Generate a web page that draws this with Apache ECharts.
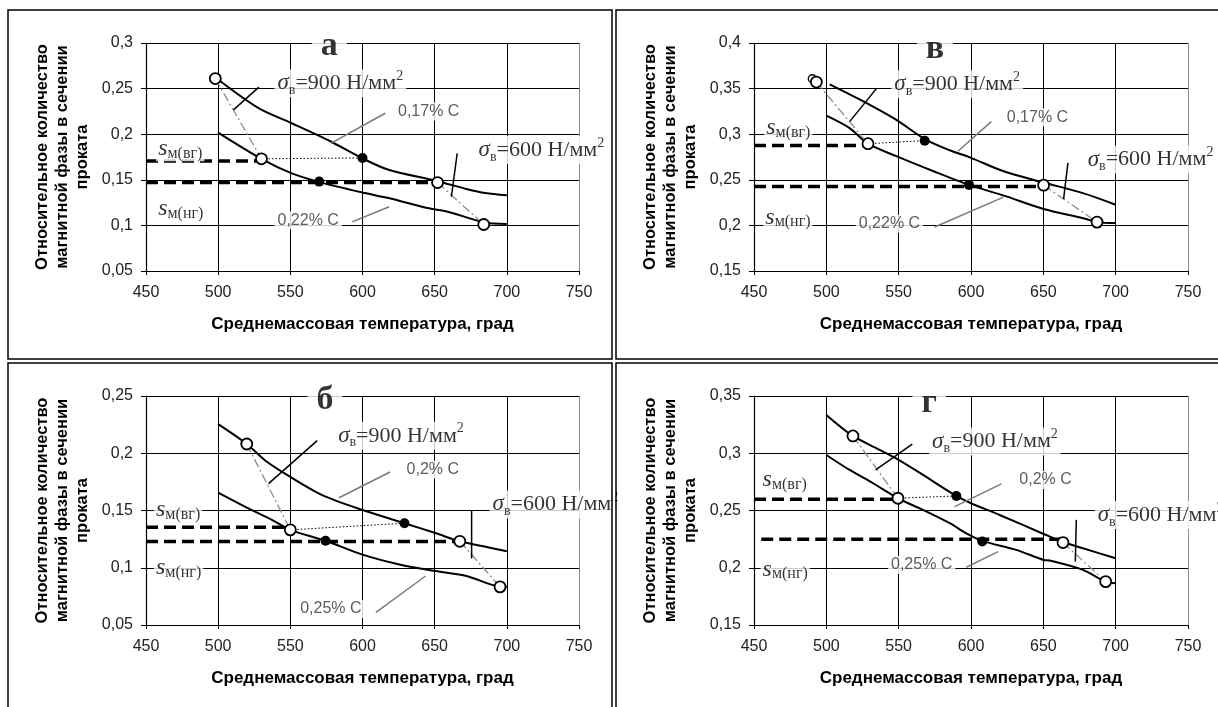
<!DOCTYPE html>
<html><head><meta charset="utf-8">
<script src="https://cdn.jsdelivr.net/npm/echarts@6/dist/echarts.min.js"></script>
<style>html,body{margin:0;padding:0;background:#fff}#c{width:1218px;height:707px}</style>
</head><body><div id="c"></div><script>
// ---------- DATA ----------
const xTicks = [450, 500, 550, 600, 650, 700, 750];
const xTitle = 'Среднемассовая температура, град';
const yTitle = 'Относительное количество\nмагнитной фазы в сечении\nпроката';

// panel а
const aUpper = [[499,0.261],[528,0.2285],[551,0.212],[578,0.192],[600,0.1735],[618,0.161],[652,0.1485],[672,0.140],[685,0.1355],[700,0.133]];
const aLower = [[500,0.2018],[530,0.173],[551,0.157],[569,0.148],[600,0.136],[618,0.130],[645,0.119],[659,0.115],[684,0.1035],[700,0.1015]];
const aOpen = [[498,0.261],[530,0.173],[652,0.147],[684,0.101]];
const aFilled = [[600,0.174],[570,0.148]];
const aLevels = [0.1706, 0.147];
const aY = [0.05, 0.3];

// panel в
const vUpper = [[502.3,0.3547],[523,0.3381],[548.4,0.3157],[568,0.2947],[585.3,0.2824],[600,0.2741],[622.1,0.2596],[650.2,0.247],[677.4,0.2354],[700,0.2227]];
const vLower = [[500.5,0.32],[516.1,0.3066],[528.8,0.2896],[548.4,0.2759],[573.7,0.2596],[598.6,0.2444],[624.4,0.2318],[650.2,0.218],[677.4,0.2079],[687.1,0.2036],[700,0.2025]];
const vOpen = [[493.1,0.3572],[528.8,0.2896],[650.2,0.2441],[687.1,0.2036]];
const vFilled = [[568,0.2929],[598.6,0.2444]];
const vExtra = [[490.3,0.3608]];
const vLevels = [0.2875, 0.2426];
const vY = [0.15, 0.4];

// panel б
const bUpper = [[500,0.2254],[519.8,0.2081],[532.6,0.1937],[550,0.1793],[572.1,0.1634],[600,0.1504],[629.1,0.1389],[650.5,0.1303],[667.4,0.1231],[683.7,0.1187],[700,0.1144]];
const bLower = [[500,0.1657],[520.9,0.1519],[537.2,0.1418],[550,0.1331],[574.4,0.1236],[600,0.1115],[625.6,0.1029],[650.5,0.0971],[672.1,0.0928],[695.3,0.0836],[700,0.0835]];
const bOpen = [[519.8,0.2081],[550,0.1331],[667.4,0.1231],[695.3,0.0833]];
const bFilled = [[629.1,0.1389],[574.4,0.1236]];
const bLevels = [0.1354, 0.123];
const bY = [0.05, 0.25];

// panel г
const gUpper = [[500,0.3335],[518.4,0.3151],[539.2,0.3015],[550,0.2942],[566.8,0.2811],[589.9,0.2627],[600,0.2563],[619.8,0.2461],[650.2,0.2295],[663.6,0.2225],[677.4,0.217],[700,0.2083]];
const gLower = [[500,0.2985],[516.1,0.2854],[532.3,0.2738],[549.5,0.2607],[566.8,0.2505],[585.3,0.2389],[596.8,0.2301],[607.8,0.2235],[631.3,0.2156],[650.2,0.2068],[654.4,0.2063],[677.4,0.1981],[693.1,0.1879],[700,0.1865]];
const gOpen = [[518.4,0.3151],[549.5,0.2607],[663.6,0.222],[693.1,0.1879]];
const gFilled = [[589.9,0.2627],[607.8,0.2229]];
const gLevels = [0.2598, 0.2249];
const gY = [0.15, 0.35];

const letters = ['а', 'в', 'б', 'г'];
const sig900 = '{g|σ}{b|в}{t|=900 Н/мм}{p|2}';
const sig600 = '{g|σ}{b|в}{t|=600 Н/мм}{p|2}';
const sUp = '{s|s}{m|м(вг)}';
const sDn = '{s|s}{m|м(нг)}';
const carbonTop = ['0,17% С', '0,17% С', '0,2% С', '0,2% С'];
const carbonBot = ['0,22% С', '0,22% С', '0,25% С', '0,25% С'];

// ---------- LAYOUT (annotation anchors in data space) ----------
const panels = [
  { upper:aUpper, lower:aLower, open:aOpen, filled:aFilled, levels:aLevels, yr:aY, start:[450,450],
    grid:{left:146, top:43, width:433, height:228},
    ann:{ letter:[577,0.2963], s900:[539,0.256], l900:[[510.6,0.2267],[528.2,0.2516]],
      c1:[622.5,0.2248], lc1:[[578,0.19],[615.8,0.223]], s600:[678.3,0.1827], l600:[[665.6,0.179],[661.6,0.1314]],
      c2:[539,0.1057], lc2:[[592.9,0.1039],[618.5,0.1204]], sv:[457,0.1845], sn:[457,0.1185] } },
  { upper:vUpper, lower:vLower, open:vOpen, filled:vFilled, levels:vLevels, yr:vY, start:[450,450], extra:vExtra,
    grid:{left:754, top:43, width:434, height:228},
    ann:{ letter:[575.1,0.3934], s900:[544.9,0.3547], l900:[[516.1,0.3138],[534.6,0.35]],
      c1:[622.6,0.3185], lc1:[[591,0.2813],[614,0.3138]], s600:[678.6,0.2723], l600:[[667,0.2686],[664,0.2289]],
      c2:[520.3,0.2018], lc2:[[574.9,0.1982],[622.1,0.2307]], sv:[457,0.3066], sn:[456.4,0.209] } },
  { upper:bUpper, lower:bLower, open:bOpen, filled:bFilled, levels:bLevels, yr:bY, start:[450,450],
    grid:{left:146, top:396, width:433, height:229},
    ann:{ letter:[574,0.2465], s900:[581,0.2153], l900:[[534.9,0.1735],[568.6,0.211]],
      c1:[628.4,0.1859], lc1:[[583.7,0.1611],[619.1,0.1836]], s600:[688,0.1553], l600:[[675.6,0.1504],[675.6,0.1081]],
      c2:[554.7,0.064], lc2:[[609.3,0.0611],[643.7,0.0928]], sv:[455.5,0.151], sn:[455.5,0.1] } },
  { upper:gUpper, lower:gLower, open:gOpen, filled:gFilled, levels:gLevels, yr:gY, start:[450,455],
    grid:{left:754, top:396, width:434, height:229},
    ann:{ letter:[571.1,0.3436], s900:[571,0.3102], l900:[[534.1,0.2854],[559.4,0.3079]],
      c1:[631.3,0.2767], lc1:[[588.7,0.2534],[621,0.2732]], s600:[685.5,0.2461], l600:[[672.8,0.2418],[672.1,0.2054]],
      c2:[542.6,0.2025], lc2:[[596.8,0.2004],[618.7,0.2141]], sv:[454.5,0.2767], sn:[454.5,0.1987] } }
];

// ---------- STYLES ----------
const serif = 'Liberation Serif, Times New Roman, serif';
const sans = 'Liberation Sans, Arial, sans-serif';
const richSig = {
  g:{fontFamily:serif, fontStyle:'italic', fontSize:23, color:'#000', lineHeight:28},
  b:{fontFamily:serif, fontSize:14, color:'#000', verticalAlign:'bottom'},
  t:{fontFamily:serif, fontSize:22, color:'#000', lineHeight:28},
  p:{fontFamily:serif, fontSize:14, color:'#000', verticalAlign:'top'}
};
const richS = {
  s:{fontFamily:serif, fontStyle:'italic', fontSize:24, color:'#000', lineHeight:26},
  m:{fontFamily:serif, fontSize:16, color:'#000', verticalAlign:'bottom'}
};
const curveStyle = {color:'#000', width:2};
const dashStyle = {color:'#000', width:3.5, type:[12,6]};
const dashDotStyle = {color:'#8f8f8f', width:1.3, type:[9,3,2,3]};
const dotStyle = {color:'#000', width:1, type:[1.5,2]};
const leadBlack = {color:'#000', width:1.5};
const leadGray = {color:'#7a7a7a', width:1.5};

// ---------- BUILD ----------
function seg(gi, pts, style, z, smooth) {
  return {type:'line', xAxisIndex:gi, yAxisIndex:gi, data:pts, symbol:'none', silent:true,
    smooth: smooth || false, lineStyle:style, z:z};
}
function txt(gi, pos, text, label) {
  return {type:'scatter', xAxisIndex:gi, yAxisIndex:gi, symbolSize:0.1, data:[pos], z:20, silent:true,
    itemStyle:{color:'rgba(0,0,0,0)'},
    label:Object.assign({show:true, position:'right', distance:0, formatter:text, backgroundColor:'#fff'}, label)};
}

const grids = [], xAxes = [], yAxes = [], series = [];
panels.forEach((p, gi) => {
  grids.push(Object.assign({containLabel:false}, p.grid));
  xAxes.push({type:'value', gridIndex:gi, min:xTicks[0], max:xTicks[xTicks.length-1], interval:xTicks[1]-xTicks[0],
    name:xTitle, nameLocation:'middle', nameGap:45,
    nameTextStyle:{fontFamily:sans, fontWeight:'bold', fontSize:17, color:'#000'},
    axisLine:{show:true, lineStyle:{color:'#000', width:1.2}},
    axisTick:{show:true, length:4, lineStyle:{color:'#000'}},
    axisLabel:{fontFamily:sans, fontSize:16, color:'#222', margin:14},
    splitLine:{show:true, lineStyle:{color:['#000','#000','#000','#000','#000','#000','#8c8c8c'], width:1}}});
  yAxes.push({type:'value', gridIndex:gi, min:p.yr[0], max:p.yr[1], interval:0.05,
    name:yTitle, nameLocation:'middle', nameRotate:90, nameGap:54,
    nameTextStyle:{fontFamily:sans, fontWeight:'bold', fontSize:16.5, lineHeight:20, color:'#000'},
    axisLine:{show:true, lineStyle:{color:'#000', width:1.2}},
    axisTick:{show:true, length:5, lineStyle:{color:'#000'}},
    axisLabel:{fontFamily:sans, fontSize:16, color:'#222', margin:13,
      formatter:v => String(+v.toFixed(2)).replace('.', ',')},
    splitLine:{show:true, lineStyle:{color:'#000', width:1}}});

  const o = p.open, f = p.filled, a = p.ann;
  series.push(seg(gi, p.upper, curveStyle, 3, 0.3));
  series.push(seg(gi, p.lower, curveStyle, 3, 0.3));
  series.push(seg(gi, [[p.start[0], p.levels[0]], [o[1][0], p.levels[0]]], dashStyle, 4));
  series.push(seg(gi, [[p.start[1], p.levels[1]], [o[2][0], p.levels[1]]], dashStyle, 4));
  series.push(seg(gi, [o[0], o[1]], dashDotStyle, 4));
  series.push(seg(gi, [o[2], o[3]], dashDotStyle, 4));
  series.push(seg(gi, [o[1], f[0]], dotStyle, 4));
  series.push(seg(gi, a.l900, leadBlack, 5));
  series.push(seg(gi, a.l600, leadBlack, 5));
  series.push(seg(gi, a.lc1, leadGray, 5));
  series.push(seg(gi, a.lc2, leadGray, 5));
  series.push({type:'scatter', xAxisIndex:gi, yAxisIndex:gi, data:f, symbol:'circle', symbolSize:10, silent:true, z:6,
    itemStyle:{color:'#000', opacity:1}});
  series.push({type:'scatter', xAxisIndex:gi, yAxisIndex:gi, data:o, symbol:'circle', symbolSize:11, silent:true, z:7,
    itemStyle:{color:'#fff', borderColor:'#000', borderWidth:1.8, opacity:1}});
  if (p.extra) series.push({type:'scatter', xAxisIndex:gi, yAxisIndex:gi, data:p.extra, symbol:'circle', symbolSize:8, silent:true, z:6,
    itemStyle:{color:'#fff', borderColor:'#000', borderWidth:1.3, opacity:1}});

  series.push(txt(gi, a.letter, letters[gi], {position:'inside', fontFamily:serif, fontWeight:'bold', fontSize:34, color:'#000', padding:[0,9], lineHeight:30}));
  series.push(txt(gi, a.s900, sig900, {rich:richSig, padding:[0,3]}));
  series.push(txt(gi, a.s600, sig600, {rich:richSig, padding:[0,3]}));
  series.push(txt(gi, a.c1, carbonTop[gi], {fontFamily:sans, fontSize:16, color:'#333', padding:[1,3]}));
  series.push(txt(gi, a.c2, carbonBot[gi], {fontFamily:sans, fontSize:16, color:'#333', padding:[1,3]}));
  series.push(txt(gi, a.sv, sUp, {rich:richS, padding:[0,2]}));
  series.push(txt(gi, a.sn, sDn, {rich:richS, padding:[0,2]}));
});

const frame = {fill:'none', stroke:'#000', lineWidth:1.5};
const chart = echarts.init(document.getElementById('c'), null, {renderer:'canvas'});
chart.setOption({
  animation:false,
  backgroundColor:'#fff',
  grid:grids, xAxis:xAxes, yAxis:yAxes, series:series,
  graphic:[
    {type:'rect', z:100, shape:{x:612.5, y:363, width:3, height:350}, style:{fill:'#fff'}},
    {type:'rect', z:101, shape:{x:8, y:10, width:604, height:349}, style:frame},
    {type:'rect', z:101, shape:{x:616, y:10, width:612, height:349}, style:frame},
    {type:'rect', z:101, shape:{x:8, y:363, width:604, height:352}, style:frame},
    {type:'rect', z:101, shape:{x:616, y:363, width:612, height:352}, style:frame}
  ]
});
</script></body></html>
